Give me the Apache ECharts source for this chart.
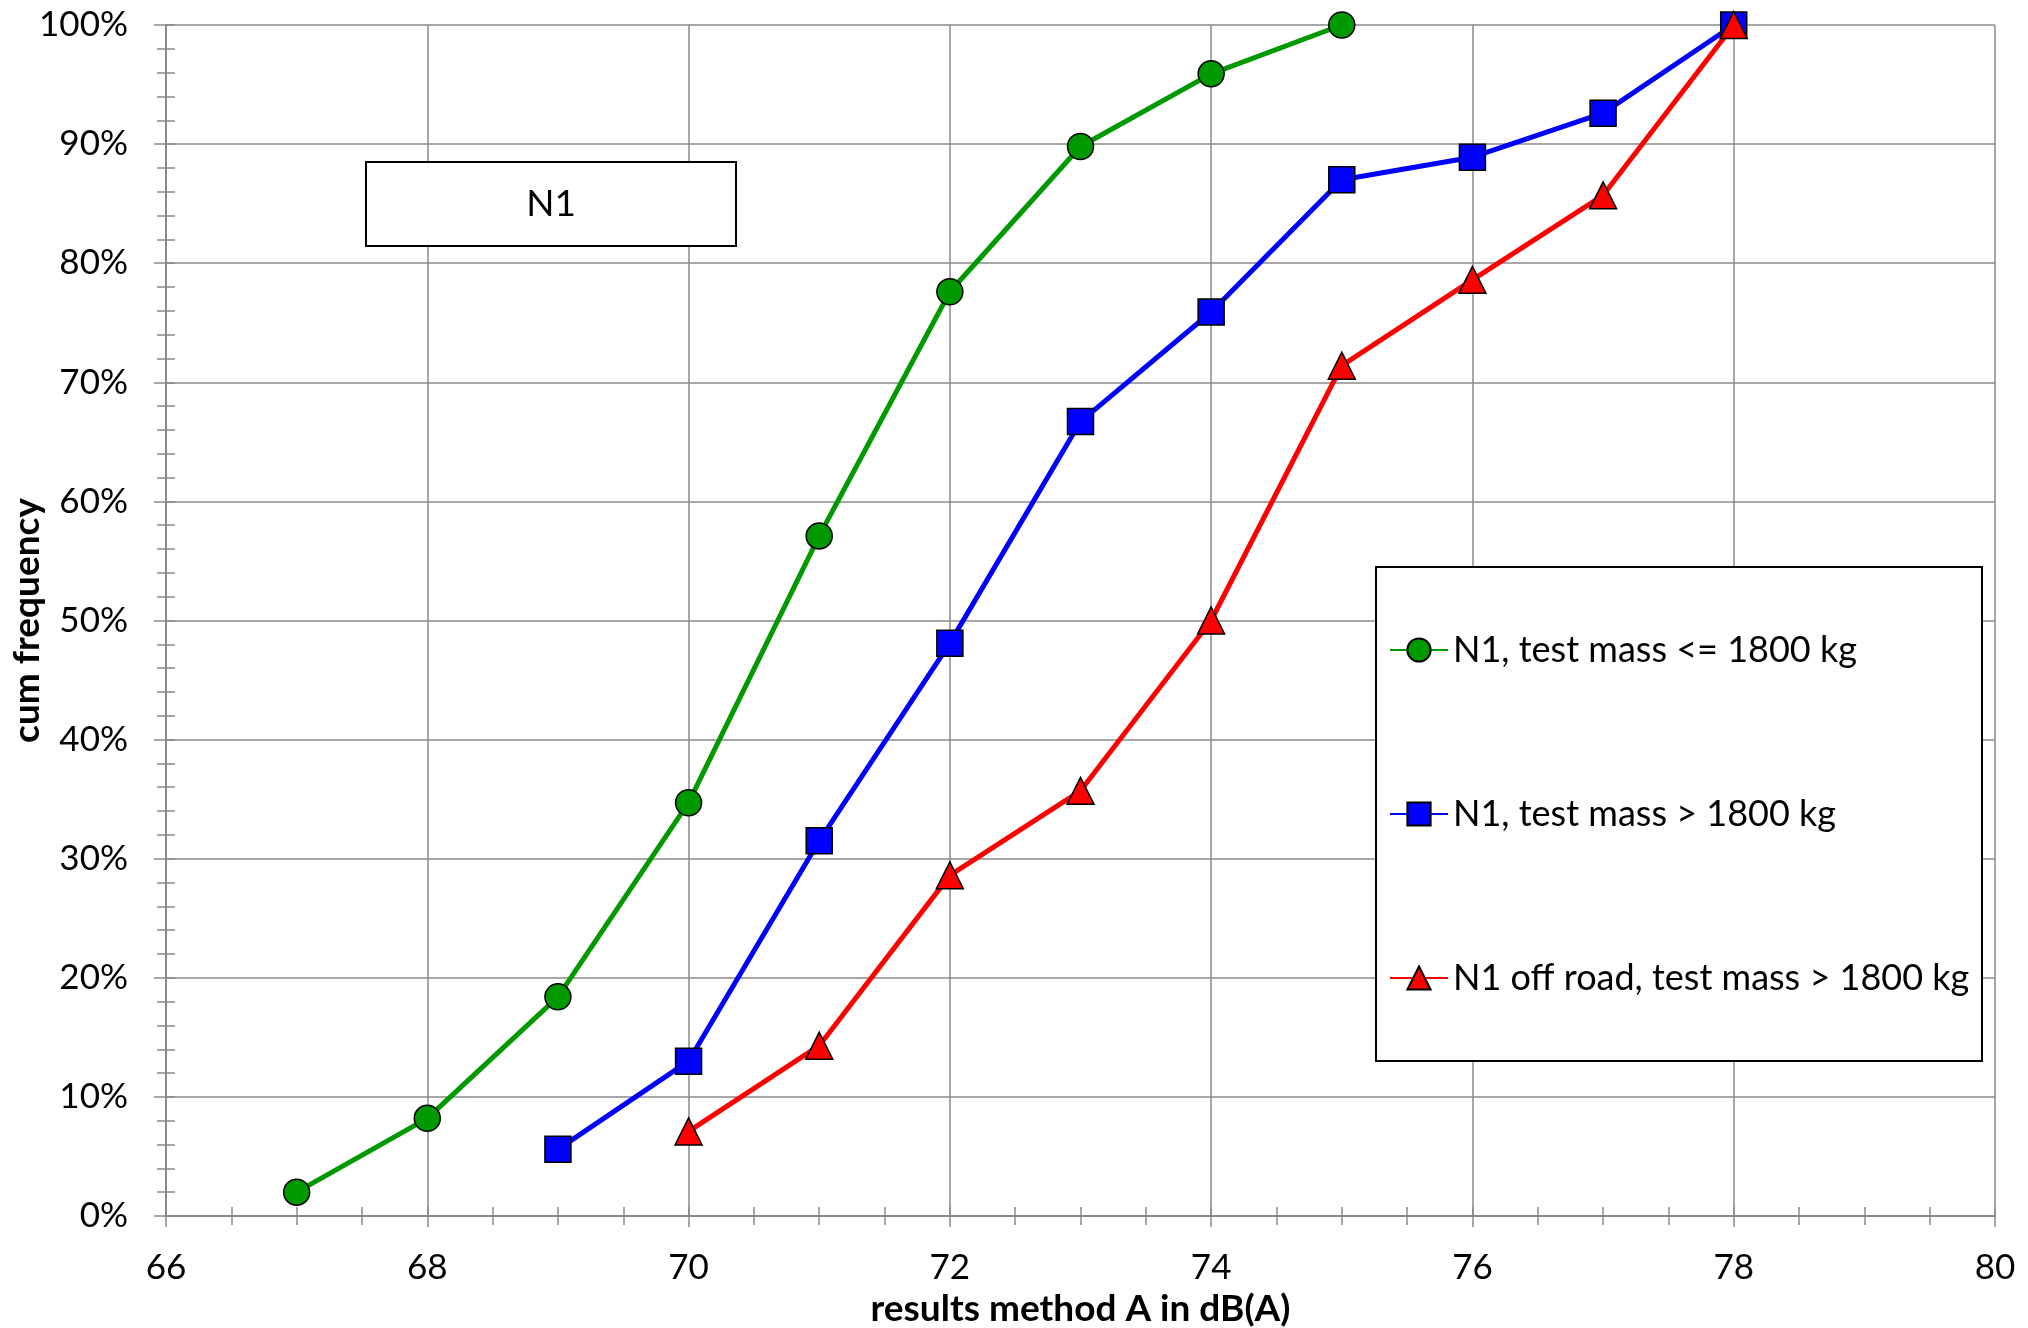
<!DOCTYPE html>
<html>
<head>
<meta charset="utf-8">
<script src="https://cdn.jsdelivr.net/npm/echarts@6/dist/echarts.min.js"></script>
<style>
html,body{margin:0;padding:0;background:#fff;}
#chart{width:2028px;height:1328px;}
</style>
</head>
<body>
<div id="chart"></div>
<script>
// ---- data ----
const seriesNames = ['N1, test mass <= 1800 kg', 'N1, test mass > 1800 kg', 'N1 off road, test mass > 1800 kg'];
const xGreen = [67, 68, 69, 70, 71, 72, 73, 74, 75];
const yGreen = [2.0, 8.2, 18.4, 34.7, 57.1, 77.6, 89.8, 95.9, 100];
const xBlue = [69, 70, 71, 72, 73, 74, 75, 76, 77, 78];
const yBlue = [5.6, 13.0, 31.5, 48.1, 66.7, 75.9, 87.0, 88.9, 92.6, 100];
const xRed = [70, 71, 72, 73, 74, 75, 76, 77, 78];
const yRed = [7.1, 14.3, 28.6, 35.7, 50.0, 71.4, 78.6, 85.7, 100];
const xTitle = 'results method A in dB(A)';
const yTitle = 'cum frequency';
const boxLabel = 'N1';

const FONT = 'Lato';
const GRID_C = '#8a8a8a';
const pairs = (xs, ys) => xs.map((x, i) => [x, ys[i]]);

const chart = echarts.init(document.getElementById('chart'));

function mkSeries(name, data, color, symbol, size) {
  return {
    name: name, type: 'line', data: data,
    xAxisIndex: 0, yAxisIndex: 0,
    symbol: symbol, symbolSize: size, showAllSymbol: true,
    lineStyle: {color: color, width: 5},
    itemStyle: {color: color, borderColor: '#000', borderWidth: 1.5},
    emphasis: {disabled: true},
    animation: false, z: 2
  };
}

const option = {
  animation: false,
  backgroundColor: '#fff',
  grid: {left: 166, right: 33, top: 25, bottom: 112, containLabel: false, outerBoundsMode: 'none'},
  xAxis: [
    {
      type: 'value', position: 'bottom', min: 66, max: 80, interval: 2,
      axisLine: {show: true, lineStyle: {color: GRID_C, width: 2}},
      axisTick: {show: true, inside: false, length: 11, lineStyle: {color: GRID_C, width: 1.5}},
      minorTick: {show: true, splitNumber: 4, length: 9, lineStyle: {color: GRID_C, width: 1.5}},
      splitLine: {show: true, lineStyle: {color: GRID_C, width: 1.5}},
      axisLabel: {fontFamily: FONT, fontSize: 35, color: '#000', margin: 34},
      name: xTitle, nameLocation: 'middle', nameGap: 75,
      nameTextStyle: {fontFamily: FONT, fontSize: 37, fontWeight: 'bold', color: '#000'}
    },
    {
      type: 'value', position: 'bottom', min: 66, max: 80, interval: 0.5,
      axisLine: {show: false},
      axisTick: {show: true, inside: true, length: 9, lineStyle: {color: GRID_C, width: 1.5}},
      splitLine: {show: false},
      axisLabel: {show: false}
    }
  ],
  yAxis: [
    {
      type: 'value', position: 'left', min: 0, max: 100, interval: 10,
      axisLine: {show: true, lineStyle: {color: GRID_C, width: 2}},
      axisTick: {show: true, inside: false, length: 12, lineStyle: {color: GRID_C, width: 1.5}},
      minorTick: {show: true, splitNumber: 5, length: 9, lineStyle: {color: GRID_C, width: 1.5}},
      splitLine: {show: true, lineStyle: {color: GRID_C, width: 1.5}},
      axisLabel: {fontFamily: FONT, fontSize: 35, color: '#000', margin: 38, formatter: '{value}%'},
      name: yTitle, nameLocation: 'middle', nameGap: 120, nameRotate: 90, nameMoveOverlap: false,
      nameTextStyle: {fontFamily: FONT, fontSize: 37, fontWeight: 'bold', color: '#000'}
    },
    {
      type: 'value', position: 'left', min: 0, max: 100, interval: 2,
      axisLine: {show: false},
      axisTick: {show: true, inside: true, length: 9, lineStyle: {color: GRID_C, width: 1.5}},
      splitLine: {show: false},
      axisLabel: {show: false}
    }
  ],
  legend: {
    show: true, orient: 'vertical', left: 1389, top: 632,
    itemWidth: 58, itemHeight: 29, itemGap: 128, padding: 0,
    textStyle: {fontFamily: FONT, fontSize: 36, color: '#000'},
    data: seriesNames, selectedMode: false, z: 5
  },
  graphic: [
    {type: 'rect', z: 3, shape: {x: 1376, y: 567, width: 606, height: 494},
     style: {fill: '#fff', stroke: '#000', lineWidth: 2}},
    {type: 'rect', z: 3, shape: {x: 366, y: 162, width: 370, height: 84},
     style: {fill: '#fff', stroke: '#000', lineWidth: 2}},
    {type: 'text', z: 4, x: 551, y: 204,
     style: {text: boxLabel, fontFamily: FONT, fontSize: 37, fill: '#000', align: 'center', verticalAlign: 'middle'}}
  ],
  series: [
    mkSeries(seriesNames[0], pairs(xGreen, yGreen), '#009900', 'circle', 26),
    mkSeries(seriesNames[1], pairs(xBlue, yBlue), '#0000ff', 'rect', 26),
    mkSeries(seriesNames[2], pairs(xRed, yRed), '#ff0000', 'triangle', 27)
  ]
};
chart.setOption(option);
</script>
</body>
</html>
